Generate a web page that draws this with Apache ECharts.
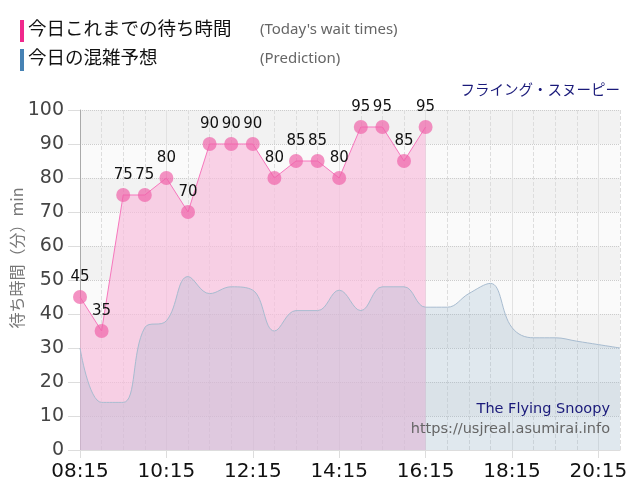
<!DOCTYPE html>
<html>
<head>
<meta charset="utf-8">
<script src="https://cdn.jsdelivr.net/npm/echarts@6/dist/echarts.min.js"></script>
<style>
html, body { margin: 0; padding: 0; background: #fff; }
#chart { width: 640px; height: 500px; }
</style>
</head>
<body>
<div id="chart"></div>
<script>
// 30分刻みの時刻
var times = ['08:15','08:45','09:15','09:45','10:15','10:45','11:15','11:45','12:15','12:45',
             '13:15','13:45','14:15','14:45','15:15','15:45','16:15','16:45','17:15','17:45',
             '18:15','18:45','19:15','19:45','20:15','20:45'];
// 今日これまでの待ち時間
var waitTimes = [45, 35, 75, 75, 80, 70, 90, 90, 90, 80, 85, 85, 80, 95, 95, 85, 95];
// 今日の混雑予想
var prediction = [30, 14, 14, 36, 38, 51, 46, 48, 47, 35, 41, 41, 47, 41, 48, 48, 42,
                  42, 46, 49, 36, 33, 33, 32, 31, 30];
var yTicks = [0, 10, 20, 30, 40, 50, 60, 70, 80, 90, 100];

(function(){

    var chart = echarts.init(document.getElementById('chart'));
    var font = '"DejaVu Sans", "Noto Sans CJK JP", sans-serif';
    var jpFont = '"Noto Sans CJK JP", sans-serif';

    option = {
        animation: false,
        textStyle: { fontFamily: font },
        grid: {
            left: 80,
            right: 20,
            top: 110,
            bottom: 50
        },
        graphic: [
            { type: 'rect', left: 20, top: 20, shape: { width: 4, height: 22 }, style: { fill: '#f0288c' } },
            { type: 'text', left: 28, top: 19, style: { text: '今日これまでの待ち時間', font: '18.5px ' + jpFont, fill: '#111' } },
            { type: 'text', left: 260, top: 22, style: { text: "(Today's wait times)", font: '15px "Noto Sans", sans-serif', fill: '#666' } },
            { type: 'rect', left: 20, top: 49, shape: { width: 4, height: 22 }, style: { fill: '#4682b4' } },
            { type: 'text', left: 28, top: 48, style: { text: '今日の混雑予想', font: '18.5px ' + jpFont, fill: '#111' } },
            { type: 'text', left: 260, top: 51, style: { text: '(Prediction)', font: '15px "Noto Sans", sans-serif', fill: '#666' } },
            { type: 'text', right: 20, top: 82, style: { text: 'フライング・スヌーピー', font: '14.5px ' + jpFont, fill: '#1a1a7a' } },
            { type: 'text', right: 30, top: 402, z: 10, style: { text: 'The Flying Snoopy', font: '14.5px ' + font, fill: '#1a1a7a' } },
            { type: 'text', right: 30, top: 422, z: 10, style: { text: 'https://usjreal.asumirai.info', font: '14.5px ' + font, fill: '#666' } },
            {
                type: 'text', x: 17, y: 258, rotation: Math.PI / 2,
                style: { text: '待ち時間（分）min', font: '16px ' + jpFont, fill: '#777', align: 'center', verticalAlign: 'middle' }
            }
        ],
        xAxis: [
            {
                type: 'category',
                boundaryGap: false,
                data: times,
                axisLine: { lineStyle: { color: '#ddd' } },
                axisTick: { interval: 3, length: 8, lineStyle: { color: '#ddd' } },
                axisLabel: { interval: 3, color: '#111', fontSize: 20, margin: 12 },
                splitLine: { show: true, interval: 0, lineStyle: { color: '#ddd', type: 'dashed' } }
            },
            {
                type: 'category',
                boundaryGap: false,
                position: 'bottom',
                data: times,
                axisLine: { show: false },
                axisTick: { show: false },
                axisLabel: { show: false },
                splitLine: { show: true, interval: 3, lineStyle: { color: '#e2e2e2', type: 'solid' } }
            }
        ],
        yAxis: {
            type: 'value',
            min: yTicks[0],
            max: yTicks[yTicks.length - 1],
            interval: 10,
            axisLine: { show: true, lineStyle: { color: '#aaa' } },
            axisTick: { show: true, length: 12, lineStyle: { color: '#ddd' } },
            axisLabel: { color: '#444', fontSize: 19, margin: 16 },
            splitLine: { lineStyle: { color: '#ccc', type: 'dotted' } },
            splitArea: { show: true, areaStyle: { color: ['#fafafa', '#f2f2f2'] } }
        },
        series: [
            {
                name: '今日これまでの待ち時間',
                type: 'line',
                data: waitTimes,
                symbol: 'circle',
                symbolSize: 14,
                showAllSymbol: true,
                z: 2,
                lineStyle: { color: '#f777bd', width: 1 },
                itemStyle: { color: 'rgba(240,100,170,0.7)' },
                areaStyle: { color: 'rgba(249,188,220,0.95)', origin: 'start' },
                label: { show: true, position: 'top', color: '#111', fontSize: 15, distance: 5 }
            },
            {
                name: '今日の混雑予想',
                type: 'line',
                data: prediction,
                smooth: 0.4,
                symbol: 'none',
                z: 3,
                lineStyle: { color: '#a8bcd0', width: 1 },
                areaStyle: { color: 'rgba(142,176,201,0.34)', origin: 'start' }
            }
        ]
    };

    chart.setOption(option);
})();
</script>
</body>
</html>
